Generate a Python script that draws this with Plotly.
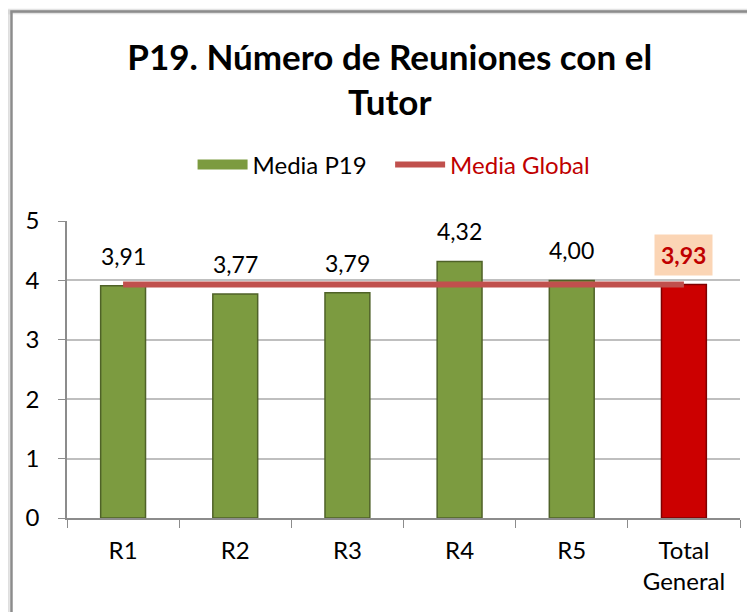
import plotly.graph_objects as go

categories = ["R1", "R2", "R3", "R4", "R5", "Total<br>General"]
media_p19 = [3.91, 3.77, 3.79, 4.32, 4.00, 3.93]
media_global = [3.93, 3.93, 3.93, 3.93, 3.93, 3.93]
y_ticks = [0, 1, 2, 3, 4, 5]

FONT = "Lato"
GREEN = "#7C9B40"
bar_colors = [GREEN] * 5 + ["#CC0000"]
line_colors = ["#4F6228"] * 5 + ["#7F0000"]

fig = go.Figure()
fig.add_trace(go.Bar(
    x=categories, y=media_p19, name="Media P19", showlegend=False,
    legendgroup="p19",
    marker=dict(color=bar_colors, line=dict(color=line_colors, width=1.5)),
    width=0.4,
))
# legend swatch for the bar series (wide rectangle like the original)
fig.add_trace(go.Scatter(
    x=[None], y=[None], mode="lines", name="Media P19\u00a0\u00a0\u00a0", legendgroup="p19",
    line=dict(color=GREEN, width=15),
))
fig.add_trace(go.Scatter(
    x=categories, y=media_global, mode="lines",
    name="<span style='color:#C00000'>Media Global</span>",
    line=dict(color="#C0504D", width=6),
))

for i, (c, v) in enumerate(zip(categories, media_p19)):
    last = i == len(categories) - 1
    txt = f"{v:.2f}".replace(".", ",")
    fig.add_annotation(
        x=c, y=v, yanchor="bottom", yshift=9 if last else 15, showarrow=False,
        text=f"<b>{txt}</b>" if last else txt,
        font=dict(family=FONT, size=23, color="#C00000" if last else "#000000"),
        bgcolor="#FBD5B5" if last else None, borderpad=6 if last else 0,
    )

# chart frame with soft shadow
for off, col, w in [(0.009, "rgba(0,0,0,0.06)", 6), (0.005, "rgba(0,0,0,0.10)", 4)]:
    fig.add_shape(type="rect", xref="paper", yref="paper", x0=-0.0825 - off, x1=1.5,
                  y0=-0.6, y1=1.705, line=dict(color=col, width=w), layer="below")
fig.add_shape(type="rect", xref="paper", yref="paper", x0=-0.0825, x1=1.5,
              y0=-0.6, y1=1.705, line=dict(color="#8C8C8C", width=2.5), layer="below")

fig.update_layout(
    width=747, height=604,
    margin=dict(l=59, r=15, t=213, b=94),
    paper_bgcolor="white", plot_bgcolor="white",
    separators=",.",
    font=dict(family=FONT, size=23, color="#000000"),
    title=dict(text="<b>P19. Número de Reuniones con el<br>Tutor</b>",
               x=0.511, xanchor="center", y=0.898, yanchor="middle",
               font=dict(family=FONT, size=35, color="#000000")),
    legend=dict(orientation="h", x=0.486, xanchor="center", y=1.189, yanchor="middle",
                font=dict(family=FONT, size=24), itemwidth=50, traceorder="normal"),
    bargap=0.6,
    showlegend=True,
)
fig.update_xaxes(type="category", showline=True, linecolor="#8C8C8C", linewidth=1.5,
                 ticks="outside", tickson="boundaries", ticklen=8, tickcolor="#8C8C8C",
                 ticklabelstandoff=10,
                 tickfont=dict(family=FONT, size=24), showgrid=False)
fig.update_yaxes(range=[0, 5], tickvals=y_ticks, showline=True, linecolor="#8C8C8C",
                 linewidth=1.5, ticks="outside", ticklen=7, tickcolor="#8C8C8C",
                 ticklabelstandoff=14,
                 showgrid=True, gridcolor="#BFBFBF", gridwidth=1.5, zeroline=False,
                 tickfont=dict(family=FONT, size=24))

fig.write_html("out.html")
